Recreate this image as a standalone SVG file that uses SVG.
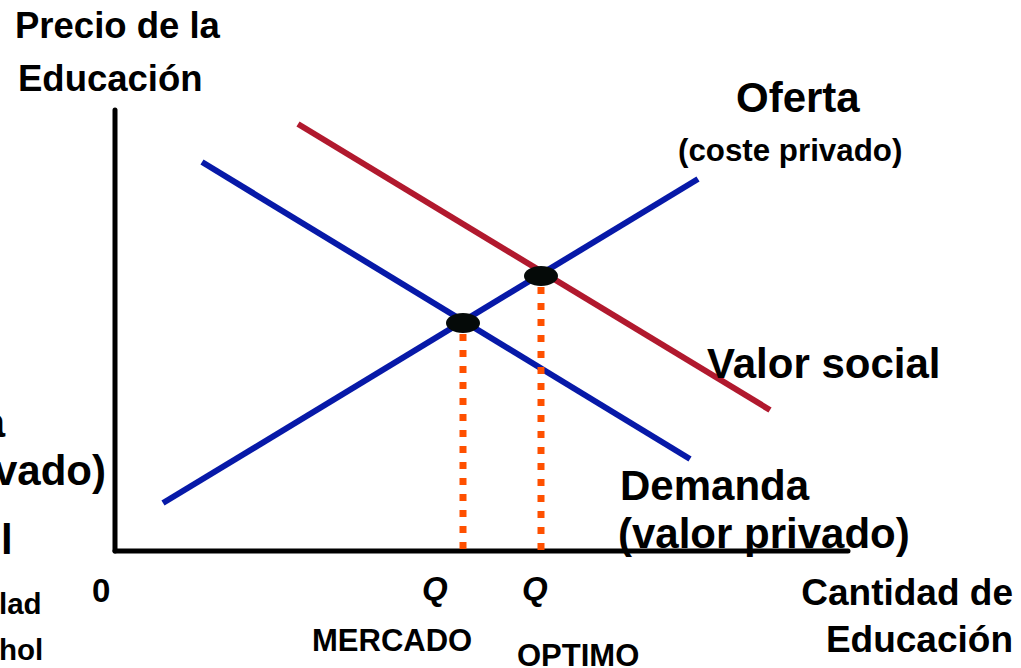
<svg xmlns="http://www.w3.org/2000/svg" width="1021" height="668" viewBox="0 0 1021 668">
<style>
  text { font-family: "Liberation Sans", Arial, sans-serif; font-weight: bold; fill: #000; }
  .axis { stroke: #000; stroke-width: 5; stroke-linecap: round; fill: none; }
  .blue { stroke: #0719A8; stroke-width: 6; fill: none; }
  .red { stroke: #B1192E; stroke-width: 6; fill: none; }
  .dots { stroke: #FF5000; stroke-width: 7; stroke-dasharray: 7 9; fill: none; }
  .pt { fill: #050A08; }
</style>
<rect width="1021" height="668" fill="#fff"/>
<g id="axes">
  <line class="axis" x1="115" y1="110" x2="115" y2="551"/>
  <line class="axis" x1="115" y1="551" x2="848" y2="551"/>
</g>
<g id="connectors">
  <line id="valor-social" class="red" x1="298" y1="124" x2="770" y2="410"/>
  <line id="demanda" class="blue" x1="202" y1="162" x2="690" y2="459"/>
  <line id="oferta" class="blue" x1="163" y1="503" x2="698" y2="179"/>
  <line id="q-mercado-line" class="dots" x1="463" y1="334" x2="463" y2="551"/>
  <line id="q-optimo-line" class="dots" x1="541" y1="287" x2="541" y2="551"/>
</g>
<g id="eq-mercado"><ellipse class="pt" cx="463" cy="323" rx="17" ry="10"/></g>
<g id="eq-optimo"><ellipse class="pt" cx="541" cy="276" rx="17" ry="10"/></g>
<g id="y-label">
  <text x="15" y="38" font-size="36.5">Precio de la</text>
  <text x="18" y="91" font-size="36.5">Educación</text>
</g>
<g id="oferta-label">
  <text x="736" y="112" font-size="42">Oferta</text>
  <text x="678" y="161" font-size="31.3">(coste privado)</text>
</g>
<g id="valor-social-label">
  <text x="707" y="378" font-size="42">Valor social</text>
</g>
<g id="demanda-label">
  <text x="620" y="500" font-size="42">Demanda</text>
  <text x="618" y="548" font-size="42">(valor privado)</text>
</g>
<g id="x-label">
  <text x="1013" y="605" font-size="37" text-anchor="end">Cantidad de</text>
  <text x="1013" y="652" font-size="37" text-anchor="end">Educación</text>
</g>
<g id="origin"><text x="92" y="602" font-size="33">0</text></g>
<g id="q-mercado">
  <text x="422" y="600" font-size="33" font-style="italic">Q</text>
  <text x="312" y="651" font-size="31">MERCADO</text>
</g>
<g id="q-optimo">
  <text x="522" y="600" font-size="33" font-style="italic">Q</text>
  <text x="517" y="666" font-size="31">OPTIMO</text>
</g>
<g id="left-fragments">
  <text x="5" y="437" font-size="42" text-anchor="end">a</text>
  <text x="106" y="485" font-size="42" text-anchor="end">vado)</text>
  <text x="1" y="554" font-size="42">l</text>
  <text x="-1" y="614" font-size="29.5">lad</text>
  <text x="-1" y="660" font-size="29.5">hol</text>
</g>
</svg>
